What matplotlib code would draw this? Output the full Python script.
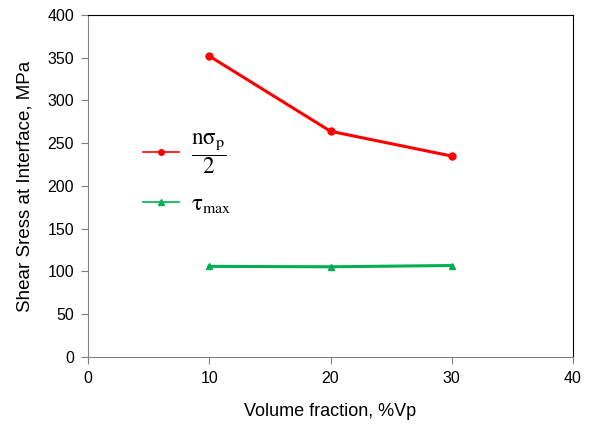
import matplotlib.pyplot as plt

plt.rcParams['font.family'] = ['Liberation Sans', 'DejaVu Sans']
plt.rcParams['mathtext.fontset'] = 'stix'

# data
volume_fraction = [10, 20, 30]
n_sigma_half = [352, 264, 235]
tau_max = [106, 105.5, 107]

fig = plt.figure(figsize=(5.92, 4.41), dpi=100)
ax = fig.add_axes([0.1486, 0.1905, 0.8194, 0.7755])

ax.plot(volume_fraction, n_sigma_half, color='#ff0000', linewidth=2.2,
        marker='o', markersize=5,
        label=r'$\dfrac{\mathrm{n}\mathrm{\sigma}_\mathrm{p}}{2}$')
ax.plot(volume_fraction, tau_max, color='#00b050', linewidth=2.2,
        marker='^', markersize=5, label=r'$\mathrm{\tau}_{\mathrm{max}}$')

ax.set_xlim(0, 40)
ax.set_ylim(0, 400)
ax.set_xticks([0, 10, 20, 30, 40])
ax.set_yticks(range(0, 401, 50))
ax.tick_params(direction='out', length=5, width=0.8, color='#808080',
               labelsize=11.5, pad=5)
for side in ['left', 'bottom']:
    ax.spines[side].set_color('#808080')
ax.spines['top'].set_color('#000000')
ax.spines['right'].set_color('#000000')

ax.set_xlabel('Volume fraction, %Vp', fontsize=13, labelpad=12)
ax.set_ylabel('Shear Sress at Interface, MPa', fontsize=13.5, labelpad=10)

leg = ax.legend(loc='upper left', bbox_to_anchor=(0.07, 0.72), frameon=False,
                fontsize=16.5, handlelength=1.6, handletextpad=0.5,
                labelspacing=0.7)
for h in leg.legend_handles:
    h.set_linewidth(1.2)
    h.set_markersize(4)

fig.savefig('out.png', dpi=100)
